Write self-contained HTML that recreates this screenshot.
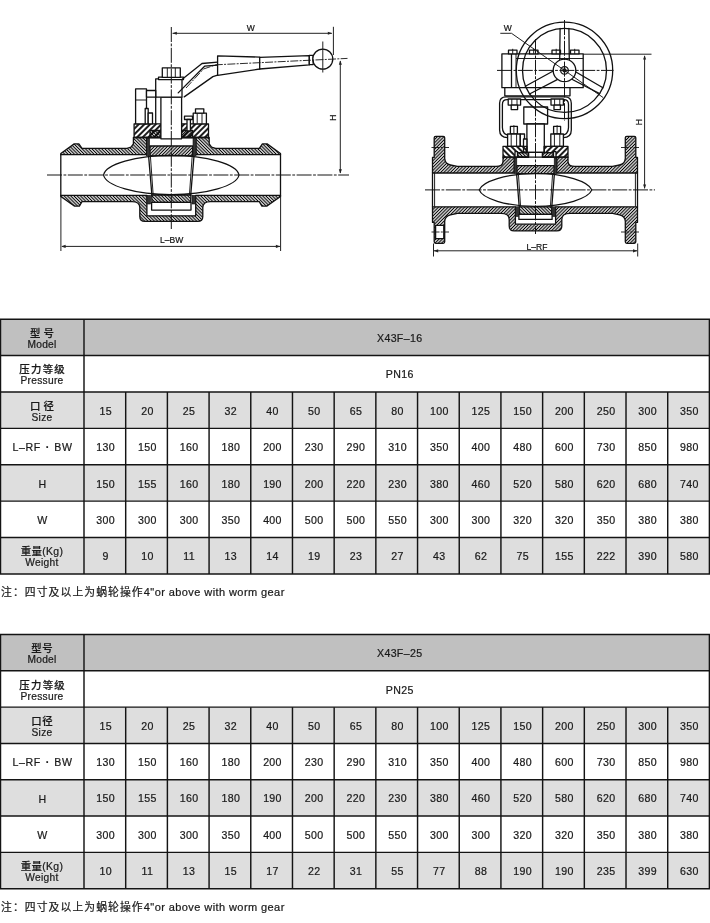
<!DOCTYPE html>
<html lang="zh"><head><meta charset="utf-8"><title>X43F</title>
<style>
html,body{margin:0;padding:0;background:#fff}
body{width:710px;height:923px;position:relative;overflow:hidden;font-family:"Liberation Sans","Noto Sans CJK SC",sans-serif;color:#1a1a1a}
svg.grid{position:absolute;left:0;top:0;will-change:transform}
svg.grid line{stroke:#141414;stroke-width:1.45}
.c{position:absolute;display:flex;flex-direction:column;align-items:center;justify-content:center;font-size:10.6px;letter-spacing:0.35px;line-height:1;white-space:nowrap}
.tx{position:absolute;left:0;top:0;width:710px;height:923px;will-change:transform;-webkit-text-stroke:0.22px #1a1a1a}
.c .one{display:block;position:relative;top:0.9px;left:0.9px}
.c.h{padding-top:3.2px;box-sizing:border-box}
.c.h .one{letter-spacing:0.6px;top:-0.7px;left:0.6px}
.dot{display:inline-block;width:13.4px;text-align:center;font-weight:bold;letter-spacing:0}
.c.w .one{position:relative;left:3px}
.h .zh{font-size:10.4px;line-height:11px;font-weight:500;display:block}
.h .en{font-size:10.2px;line-height:11px;letter-spacing:0.3px;display:block}
.sp{letter-spacing:3px;margin-right:-3px}
.sp0{letter-spacing:0.6px;margin-right:-0.6px}
.sp1{letter-spacing:1.3px;margin-right:-1.3px}
.note{position:absolute;left:1px;height:16px;line-height:16px;font-size:11px;letter-spacing:0.42px;white-space:nowrap}
.note .nz{font-size:10.8px;letter-spacing:1.1px;font-weight:400}
</style></head><body>
<svg class="dw" width="710" height="300" viewBox="0 0 710 300" style="position:absolute;left:0;top:0;will-change:transform">
<defs>
<pattern id="h1" width="2.3" height="2.3" patternUnits="userSpaceOnUse" patternTransform="rotate(45)"><line x1="1.15" y1="-1" x2="1.15" y2="4" stroke="#000" stroke-width="1.15"/></pattern>
<pattern id="h2" width="2.3" height="2.3" patternUnits="userSpaceOnUse" patternTransform="rotate(-45)"><line x1="1.15" y1="-1" x2="1.15" y2="4" stroke="#000" stroke-width="1.15"/></pattern>
<pattern id="h3" width="4" height="4" patternUnits="userSpaceOnUse" patternTransform="rotate(45)"><line x1="2" y1="-1" x2="2" y2="5" stroke="#111" stroke-width="1.9"/></pattern>
<pattern id="h4" width="4" height="4" patternUnits="userSpaceOnUse" patternTransform="rotate(-45)"><line x1="2" y1="-1" x2="2" y2="5" stroke="#111" stroke-width="1.9"/></pattern>
</defs>
<style>
.dw .o{fill:none;stroke:#111;stroke-width:1.3;stroke-linejoin:round;stroke-linecap:round}
.dw .w{fill:#fff;stroke:#111;stroke-width:1.3;stroke-linejoin:round}
.dw .t{fill:none;stroke:#151515;stroke-width:0.95}
.dw .cl{fill:none;stroke:#151515;stroke-width:1.0;stroke-dasharray:15 1.5 2.8 1.5}
.dw .cs{fill:none;stroke:#151515;stroke-width:0.9;stroke-dasharray:8 1.3 2 1.3}
.dw .ha{fill:url(#h1);stroke:#111;stroke-width:1.3;stroke-linejoin:round}
.dw .hb{fill:url(#h2);stroke:#111;stroke-width:1.3;stroke-linejoin:round}
.dw .hc{fill:url(#h3);stroke:#111;stroke-width:1.3;stroke-linejoin:round}
.dw .hd{fill:url(#h4);stroke:#111;stroke-width:1.3;stroke-linejoin:round}
.dw .k{fill:#333;stroke:#111;stroke-width:0.6}
.dw .ar{fill:#222;stroke:none}
.dw text{font-family:"Liberation Sans",sans-serif;font-weight:normal;fill:#111;stroke:#111;stroke-width:0.2}
</style>
<polygon class="hb" points="60.8,153.5 74.2,143.9 78.9,143.9 82.0,148.4 127.0,148.4 131.0,147.2 133.4,143.9 133.4,137.5 146.6,137.5 146.6,154.7 60.8,154.7"/>
<polygon class="hb" points="280.5,153.5 267.1,143.9 262.4,143.9 259.3,148.4 215.6,148.4 211.6,147.2 209.2,143.9 209.2,137.5 196.0,137.5 196.0,154.7 280.5,154.7"/>
<path class="hb" d="M60.8,195.3 L60.8,196.5 L74.6,206.1 L79.4,206.1 L82,201.6 L132,201.6 Q139.8,201.6 139.8,207.6 L139.8,216.4 Q139.8,221.4 145,221.4 L197.60000000000002,221.4 Q202.8,221.4 202.8,216.4 L202.8,207.6 Q202.8,201.6 210.60000000000002,201.6 L259.3,201.6 L261.9,206.1 L266.70000000000005,206.1 L280.5,196.5 L280.5,195.3 L195.70000000000002,195.3 L195.70000000000002,215.8 L146.9,215.8 L146.9,195.3 Z"/>
<line class="o" x1="60.8" y1="154.7" x2="60.8" y2="195.3"/>
<line class="o" x1="280.5" y1="154.7" x2="280.5" y2="195.3"/>
<path class="o" d="M103.6,175.0 C105.6,164.2 136.1,155.4 171.3,155.4 C206.5,155.4 237.0,164.2 239.0,175.0 C237.0,185.8 206.5,194.6 171.3,194.6 C136.1,194.6 105.6,185.8 103.6,175.0 Z"/>
<polygon class="ha" points="149.8,146.0 192.8,146.0 192.4,155.9 150.2,155.9"/>
<polygon class="hb" points="151.7,195.0 190.9,195.0 190.6,202.3 152.0,202.3"/>
<line class="o" x1="148.6" y1="155.9" x2="151.9" y2="195.3"/>
<line class="t" x1="150.4" y1="155.9" x2="153.2" y2="195.3"/>
<rect class="k" x="146.6" y="138.0" width="3.0" height="17.7"/>
<rect class="k" x="147.0" y="195.3" width="3.6" height="8.7"/>
<line class="o" x1="194.0" y1="155.9" x2="190.7" y2="195.3"/>
<line class="t" x1="192.2" y1="155.9" x2="189.4" y2="195.3"/>
<rect class="k" x="193.0" y="138.0" width="3.0" height="17.7"/>
<rect class="k" x="192.0" y="195.3" width="3.6" height="8.7"/>
<rect class="w" x="151.6" y="202.3" width="39.4" height="7.8"/>
<line class="o" x1="146.6" y1="137.5" x2="196.0" y2="137.5"/>
<rect class="hc" x="134.1" y="123.8" width="27.1" height="13.7"/>
<rect class="hc" x="181.4" y="123.8" width="27.1" height="13.7"/>
<rect class="hb" x="150.0" y="130.5" width="11.2" height="7.0"/>
<rect class="ha" x="181.4" y="130.5" width="11.2" height="7.0"/>
<rect class="w" x="160.9" y="97.2" width="20.7" height="41.6"/>
<rect class="w" x="155.7" y="78.8" width="26.3" height="18.4"/>
<rect class="w" x="158.5" y="77.2" width="25.0" height="2.4"/>
<rect class="w" x="162.3" y="67.9" width="18.0" height="9.5"/>
<line class="t" x1="167.3" y1="67.9" x2="167.3" y2="77.4"/>
<line class="t" x1="175.3" y1="67.9" x2="175.3" y2="77.4"/>
<rect class="w" x="135.6" y="88.9" width="10.9" height="34.9"/>
<line class="t" x1="135.6" y1="100.0" x2="146.5" y2="100.0"/>
<rect class="w" x="146.5" y="90.5" width="9.2" height="6.7"/>
<line class="o" x1="155.7" y1="97.2" x2="155.7" y2="123.8"/>
<rect class="w" x="145.2" y="108.5" width="3.0" height="15.3"/>
<rect class="w" x="148.2" y="113.0" width="4.3" height="10.8"/>
<rect class="w" x="184.5" y="116.2" width="8.0" height="3.3"/>
<rect class="w" x="187.0" y="119.5" width="3.4" height="11.5"/>
<rect class="w" x="193.2" y="113.2" width="13.2" height="10.6"/>
<rect class="w" x="195.5" y="108.8" width="8.3" height="4.4"/>
<line class="t" x1="197.2" y1="113.2" x2="197.2" y2="123.8"/>
<line class="t" x1="202.0" y1="113.2" x2="202.0" y2="123.8"/>
<polyline class="o" points="182.2,79.2 202.0,63.5 217.6,62.2"/>
<polyline class="o" points="178.2,92.9 204.6,66.2 217.6,65.2"/>
<polyline class="o" points="184.2,96.9 212.9,76.6 217.6,75.2"/>
<polygon class="w" points="217.6,55.8 259.7,57.1 259.7,69.0 217.6,75.4"/>
<polygon class="w" points="259.7,57.3 309.3,55.6 309.3,64.9 259.7,69.0"/>
<rect class="w" x="309.3" y="55.4" width="3.9" height="9.2"/>
<circle class="w" cx="322.8" cy="59.1" r="10"/>
<polyline class="cs" points="186.0,88.0 203.5,69.0 216.0,64.8 347.5,58.4"/>
<line class="t" x1="322.8" y1="41.5" x2="322.8" y2="72.5"/>
<line class="cl" x1="47.0" y1="175.0" x2="349.0" y2="175.0"/>
<line class="cl" x1="171.3" y1="27.0" x2="171.3" y2="229.0"/>
<line class="t" x1="172.6" y1="33.3" x2="331.8" y2="33.3"/>
<polygon class="ar" points="172.4,33.3 176.8,31.7 176.8,34.8"/>
<polygon class="ar" points="332.2,33.3 327.8,34.8 327.8,31.7"/>
<line class="t" x1="333.4" y1="26.8" x2="333.4" y2="55.0"/>
<text x="250.7" y="30.8" font-size="8.5" text-anchor="middle">W</text>
<line class="t" x1="340.3" y1="61.0" x2="340.3" y2="173.0"/>
<polygon class="ar" points="340.3,60.4 341.9,64.8 338.8,64.8"/>
<polygon class="ar" points="340.3,173.6 338.8,169.2 341.9,169.2"/>
<text x="335.9" y="117.6" font-size="8.5" text-anchor="middle" transform="rotate(-90 335.9 117.6)">H</text>
<line class="t" x1="60.9" y1="195.3" x2="60.9" y2="251.0"/>
<line class="t" x1="280.6" y1="195.3" x2="280.6" y2="251.0"/>
<line class="t" x1="62.0" y1="246.4" x2="280.0" y2="246.4"/>
<polygon class="ar" points="61.2,246.4 65.6,244.8 65.6,248.0"/>
<polygon class="ar" points="280.3,246.4 275.9,248.0 275.9,244.8"/>
<text x="171.7" y="243.2" font-size="8.5" text-anchor="middle">L–BW</text>
<rect class="w" x="501.9" y="53.9" width="81.3" height="33.8"/>
<line class="o" x1="511.5" y1="53.9" x2="511.5" y2="87.7"/>
<line class="t" x1="516.0" y1="53.9" x2="516.0" y2="87.7"/>
<line class="t" x1="516.0" y1="58.5" x2="583.2" y2="58.5"/>
<rect class="w" x="508.5" y="50.2" width="8.5" height="3.7"/>
<line class="t" x1="512.7" y1="48.8" x2="512.7" y2="53.9"/>
<rect class="w" x="529.5" y="50.2" width="8.5" height="3.7"/>
<line class="t" x1="533.7" y1="48.8" x2="533.7" y2="53.9"/>
<rect class="w" x="552.0" y="50.2" width="8.5" height="3.7"/>
<line class="t" x1="556.2" y1="48.8" x2="556.2" y2="53.9"/>
<rect class="w" x="570.5" y="50.2" width="8.5" height="3.7"/>
<line class="t" x1="574.7" y1="48.8" x2="574.7" y2="53.9"/>
<rect class="w" x="504.8" y="87.7" width="65.2" height="8.1"/>
<path class="o" d="M507.6,137.6 Q499.6,137.6 499.6,130.1 L499.6,103.3 Q499.6,96.8 506.1,96.8 L564.8,96.8 Q571.3,96.8 571.3,103.3 L571.3,130.1 Q571.3,137.6 563.3,137.6"/>
<path class="o" d="M509.6,135.1 Q502.4,135.1 502.4,127.6 L502.4,104.4 Q502.4,99.6 507.2,99.6 L563.7,99.6 Q568.5,99.6 568.5,104.4 L568.5,127.6 Q568.5,135.1 561.3,135.1"/>
<rect class="w" x="523.8" y="107.0" width="23.8" height="17.0"/>
<rect class="w" x="526.9" y="124.0" width="17.4" height="28.3"/>
<rect class="w" x="510.4" y="126.4" width="7.0" height="7.6"/>
<line class="t" x1="513.9" y1="125.2" x2="513.9" y2="134.0"/>
<rect class="w" x="507.6" y="134.0" width="12.6" height="12.4"/>
<line class="t" x1="511.2" y1="134.0" x2="511.2" y2="146.4"/>
<line class="t" x1="516.6" y1="134.0" x2="516.6" y2="146.4"/>
<rect class="w" x="553.6" y="126.4" width="7.0" height="7.6"/>
<line class="t" x1="557.1" y1="125.2" x2="557.1" y2="134.0"/>
<rect class="w" x="550.8" y="134.0" width="12.6" height="12.4"/>
<line class="t" x1="554.4" y1="134.0" x2="554.4" y2="146.4"/>
<line class="t" x1="559.8" y1="134.0" x2="559.8" y2="146.4"/>
<rect class="w" x="508.2" y="99.0" width="12.4" height="6.1"/>
<line class="t" x1="511.8" y1="99.0" x2="511.8" y2="105.1"/>
<line class="t" x1="517.0" y1="99.0" x2="517.0" y2="105.1"/>
<rect class="w" x="511.2" y="105.1" width="6.4" height="4.5"/>
<rect class="w" x="551.0" y="99.0" width="12.4" height="6.1"/>
<line class="t" x1="554.6" y1="99.0" x2="554.6" y2="105.1"/>
<line class="t" x1="559.8" y1="99.0" x2="559.8" y2="105.1"/>
<rect class="w" x="554.0" y="105.1" width="6.4" height="4.5"/>
<rect class="w" x="520.3" y="134.0" width="4.2" height="12.4"/>
<rect class="w" x="523.5" y="139.0" width="3.4" height="13.0"/>
<rect class="hd" x="503.0" y="146.4" width="23.9" height="10.8"/>
<rect class="hc" x="544.1" y="146.4" width="23.9" height="10.8"/>
<rect class="w" x="515.0" y="151.6" width="2.6" height="5.6"/>
<rect class="w" x="553.4" y="151.6" width="2.6" height="5.6"/>
<rect class="w" x="517.6" y="152.6" width="10.9" height="4.6"/>
<rect class="w" x="542.5" y="152.6" width="10.9" height="4.6"/>
<rect class="hb" x="517.6" y="152.6" width="10.9" height="4.6"/>
<rect class="ha" x="542.5" y="152.6" width="10.9" height="4.6"/>
<line class="o" x1="526.9" y1="152.3" x2="544.3" y2="152.3"/>
<path class="ha" d="M434.2,173.0 L432.5,173.0 L432.5,157.4 L434.2,157.4 L434.2,137.8 Q434.2,136.3 435.7,136.3 L443.2,136.3 Q444.7,136.3 444.7,137.8 L444.7,158.6 Q445.2,164 450.5,165 L457.4,166.4 L496.0,166.4 Q503.0,166.4 503.0,161.5 L503.0,157.2 L514.2,157.2 L514.2,173.0 Z"/>
<path class="ha" d="M635.8,173.0 L637.5,173.0 L637.5,157.4 L635.8,157.4 L635.8,137.8 Q635.8,136.3 634.3,136.3 L626.8,136.3 Q625.3,136.3 625.3,137.8 L625.3,158.6 Q624.8,164 619.5,165 L612.6,166.4 L575.0,166.4 Q568.0,166.4 568.0,161.5 L568.0,157.2 L556.8,157.2 L556.8,173.0 Z"/>
<path class="ha" d="M432.5,206.8 L432.5,222.4 L434.2,222.4 L434.2,241.8 Q434.2,243.3 435.7,243.3 L443.2,243.3 Q444.7,243.3 444.7,241.8 L444.7,221.2 Q445.2,215.8 450.5,214.8 L457.4,213.4 L501.0,213.4 Q509.2,213.4 509.2,219.4 L509.2,225.9 Q509.2,230.9 514.2,230.9 L556.8,230.9 Q561.8,230.9 561.8,225.9 L561.8,219.4 Q561.8,213.4 570.0,213.4 L612.6,213.4 L619.5,214.8 Q624.8,215.8 625.3,221.2 L625.3,241.8 Q625.3,243.3 626.8,243.3 L634.3,243.3 Q635.8,243.3 635.8,241.8 L635.8,222.4 L637.5,222.4 L637.5,206.8 L555.6,206.8 L555.6,224.2 L515.4,224.2 L515.4,206.8 Z"/>
<rect class="w" x="435.6" y="225.4" width="8.2" height="13.2"/>
<line class="o" x1="432.5" y1="173.0" x2="432.5" y2="206.8"/>
<line class="o" x1="637.5" y1="173.0" x2="637.5" y2="206.8"/>
<line class="t" x1="434.6" y1="173.0" x2="434.6" y2="206.8"/>
<line class="t" x1="635.4" y1="173.0" x2="635.4" y2="206.8"/>
<line class="cs" x1="431.5" y1="147.5" x2="449.0" y2="147.5"/>
<line class="cs" x1="621.0" y1="147.5" x2="639.0" y2="147.5"/>
<line class="cs" x1="431.5" y1="232.0" x2="449.0" y2="232.0"/>
<line class="cs" x1="621.0" y1="232.0" x2="639.0" y2="232.0"/>
<path class="o" d="M479.2,189.9 C482.0,181.7 506.2,173.4 535.5,173.4 C564.8,173.4 589.0,181.7 591.8,189.9 C589.0,198.2 564.8,206.4 535.5,206.4 C506.2,206.4 482.0,198.2 479.2,189.9 Z"/>
<polygon class="ha" points="516.8,165.7 554.2,165.7 553.9,173.6 517.1,173.6"/>
<polygon class="hb" points="519.2,206.8 551.8,206.8 551.6,214.3 519.4,214.3"/>
<line class="o" x1="516.6" y1="173.6" x2="519.2" y2="206.8"/>
<line class="t" x1="518.4" y1="173.6" x2="520.6" y2="206.8"/>
<rect class="k" x="514.2" y="158.0" width="2.6" height="15.6"/>
<rect class="k" x="515.4" y="206.8" width="3.2" height="9.7"/>
<line class="o" x1="554.4" y1="173.6" x2="551.8" y2="206.8"/>
<line class="t" x1="552.6" y1="173.6" x2="550.4" y2="206.8"/>
<rect class="k" x="554.2" y="158.0" width="2.6" height="15.6"/>
<rect class="k" x="552.4" y="206.8" width="3.2" height="9.7"/>
<rect class="w" x="518.9" y="214.3" width="33.2" height="5.1"/>
<line class="o" x1="514.2" y1="157.2" x2="556.8" y2="157.2"/>
<circle class="o" cx="564.5" cy="70.4" r="48.2"/>
<circle class="o" cx="564.5" cy="70.4" r="42"/>
<line class="o" x1="569.3" y1="60.2" x2="568.9" y2="28.4"/>
<line class="o" x1="559.7" y1="60.2" x2="560.1" y2="28.4"/>
<line class="o" x1="571.4" y1="79.0" x2="599.6" y2="93.7"/>
<line class="o" x1="575.5" y1="71.7" x2="602.9" y2="87.8"/>
<line class="o" x1="553.2" y1="71.0" x2="525.4" y2="86.2"/>
<line class="o" x1="557.7" y1="79.4" x2="529.5" y2="94.0"/>
<circle class="w" cx="564.5" cy="70.4" r="11.3"/>
<circle class="o" cx="564.5" cy="70.4" r="3.8"/>
<circle class="o" cx="564.5" cy="70.4" r="1.5"/>
<line class="cl" x1="425.0" y1="189.9" x2="655.0" y2="189.9"/>
<line class="cl" x1="535.5" y1="39.0" x2="535.5" y2="234.0"/>
<line class="cl" x1="497.0" y1="70.4" x2="613.5" y2="70.4"/>
<line class="cl" x1="564.5" y1="20.0" x2="564.5" y2="120.5"/>
<polyline class="t" points="500.3,33.3 511.5,33.3 564.5,70.4 603.2,97.6"/>
<text x="507.8" y="30.6" font-size="8.5" text-anchor="middle">W</text>
<line class="t" x1="583.2" y1="54.2" x2="651.5" y2="54.2"/>
<line class="t" x1="644.6" y1="56.0" x2="644.6" y2="188.2"/>
<polygon class="ar" points="644.6,55.2 646.1,59.6 643.1,59.6"/>
<polygon class="ar" points="644.6,188.9 643.1,184.5 646.1,184.5"/>
<text x="642.4" y="122.1" font-size="8.5" text-anchor="middle" transform="rotate(-90 642.4 122.1)">H</text>
<line class="t" x1="433.5" y1="243.5" x2="433.5" y2="256.5"/>
<line class="t" x1="637.7" y1="243.5" x2="637.7" y2="256.5"/>
<line class="t" x1="434.0" y1="250.8" x2="637.0" y2="250.8"/>
<polygon class="ar" points="433.8,250.8 438.2,249.2 438.2,252.4"/>
<polygon class="ar" points="637.4,250.8 633.0,252.4 633.0,249.2"/>
<text x="537.0" y="249.6" font-size="8.5" text-anchor="middle">L–RF</text>
</svg>
<svg class="grid" width="710" height="923" viewBox="0 0 710 923">
<rect x="0" y="319.20" width="710" height="36.39" fill="#c0c0c0"/>
<rect x="0" y="391.97" width="710" height="36.39" fill="#dedede"/>
<rect x="0" y="464.74" width="710" height="36.39" fill="#dedede"/>
<rect x="0" y="537.51" width="710" height="36.39" fill="#dedede"/>
<line x1="0" y1="319.20" x2="710" y2="319.20"/>
<line x1="0" y1="355.59" x2="710" y2="355.59"/>
<line x1="0" y1="391.97" x2="710" y2="391.97"/>
<line x1="0" y1="428.36" x2="710" y2="428.36"/>
<line x1="0" y1="464.74" x2="710" y2="464.74"/>
<line x1="0" y1="501.13" x2="710" y2="501.13"/>
<line x1="0" y1="537.51" x2="710" y2="537.51"/>
<line x1="0" y1="573.90" x2="710" y2="573.90"/>
<line x1="0.5" y1="319.20" x2="0.5" y2="573.90"/>
<line x1="84.00" y1="319.20" x2="84.00" y2="573.90"/>
<line x1="709.40" y1="319.20" x2="709.40" y2="573.90"/>
<line x1="125.69" y1="391.97" x2="125.69" y2="573.90"/>
<line x1="167.39" y1="391.97" x2="167.39" y2="573.90"/>
<line x1="209.08" y1="391.97" x2="209.08" y2="573.90"/>
<line x1="250.77" y1="391.97" x2="250.77" y2="573.90"/>
<line x1="292.47" y1="391.97" x2="292.47" y2="573.90"/>
<line x1="334.16" y1="391.97" x2="334.16" y2="573.90"/>
<line x1="375.85" y1="391.97" x2="375.85" y2="573.90"/>
<line x1="417.55" y1="391.97" x2="417.55" y2="573.90"/>
<line x1="459.24" y1="391.97" x2="459.24" y2="573.90"/>
<line x1="500.93" y1="391.97" x2="500.93" y2="573.90"/>
<line x1="542.63" y1="391.97" x2="542.63" y2="573.90"/>
<line x1="584.32" y1="391.97" x2="584.32" y2="573.90"/>
<line x1="626.01" y1="391.97" x2="626.01" y2="573.90"/>
<line x1="667.71" y1="391.97" x2="667.71" y2="573.90"/>
<rect x="0" y="634.50" width="710" height="36.31" fill="#c0c0c0"/>
<rect x="0" y="707.13" width="710" height="36.31" fill="#dedede"/>
<rect x="0" y="779.76" width="710" height="36.31" fill="#dedede"/>
<rect x="0" y="852.39" width="710" height="36.31" fill="#dedede"/>
<line x1="0" y1="634.50" x2="710" y2="634.50"/>
<line x1="0" y1="670.81" x2="710" y2="670.81"/>
<line x1="0" y1="707.13" x2="710" y2="707.13"/>
<line x1="0" y1="743.44" x2="710" y2="743.44"/>
<line x1="0" y1="779.76" x2="710" y2="779.76"/>
<line x1="0" y1="816.07" x2="710" y2="816.07"/>
<line x1="0" y1="852.39" x2="710" y2="852.39"/>
<line x1="0" y1="888.70" x2="710" y2="888.70"/>
<line x1="0.5" y1="634.50" x2="0.5" y2="888.70"/>
<line x1="84.00" y1="634.50" x2="84.00" y2="888.70"/>
<line x1="709.40" y1="634.50" x2="709.40" y2="888.70"/>
<line x1="125.69" y1="707.13" x2="125.69" y2="888.70"/>
<line x1="167.39" y1="707.13" x2="167.39" y2="888.70"/>
<line x1="209.08" y1="707.13" x2="209.08" y2="888.70"/>
<line x1="250.77" y1="707.13" x2="250.77" y2="888.70"/>
<line x1="292.47" y1="707.13" x2="292.47" y2="888.70"/>
<line x1="334.16" y1="707.13" x2="334.16" y2="888.70"/>
<line x1="375.85" y1="707.13" x2="375.85" y2="888.70"/>
<line x1="417.55" y1="707.13" x2="417.55" y2="888.70"/>
<line x1="459.24" y1="707.13" x2="459.24" y2="888.70"/>
<line x1="500.93" y1="707.13" x2="500.93" y2="888.70"/>
<line x1="542.63" y1="707.13" x2="542.63" y2="888.70"/>
<line x1="584.32" y1="707.13" x2="584.32" y2="888.70"/>
<line x1="626.01" y1="707.13" x2="626.01" y2="888.70"/>
<line x1="667.71" y1="707.13" x2="667.71" y2="888.70"/>
</svg>
<div class="tx">
<div class="c h" style="left:0.00px;top:319.20px;width:84.00px;height:36.39px"><span class="zh sp">型号</span><span class="en">Model</span></div>
<div class="c h" style="left:0.00px;top:355.59px;width:84.00px;height:36.39px"><span class="zh sp1">压力等级</span><span class="en">Pressure</span></div>
<div class="c h" style="left:0.00px;top:391.97px;width:84.00px;height:36.39px"><span class="zh sp">口径</span><span class="en">Size</span></div>
<div class="c h" style="left:0.00px;top:428.36px;width:84.00px;height:36.39px"><span class="one">L–RF<span class="dot">·</span>BW</span></div>
<div class="c h" style="left:0.00px;top:464.74px;width:84.00px;height:36.39px"><span class="one">H</span></div>
<div class="c h" style="left:0.00px;top:501.13px;width:84.00px;height:36.39px"><span class="one">W</span></div>
<div class="c h" style="left:0.00px;top:537.51px;width:84.00px;height:36.39px"><span class="zh">重量(Kg)</span><span class="en">Weight</span></div>
<div class="c w" style="left:84.00px;top:319.20px;width:625.40px;height:36.39px"><span class="one">X43F–16</span></div>
<div class="c w" style="left:84.00px;top:355.59px;width:625.40px;height:36.39px"><span class="one">PN16</span></div>
<div class="c" style="left:84.00px;top:391.97px;width:41.69px;height:36.39px"><span class="one">15</span></div>
<div class="c" style="left:125.69px;top:391.97px;width:41.69px;height:36.39px"><span class="one">20</span></div>
<div class="c" style="left:167.39px;top:391.97px;width:41.69px;height:36.39px"><span class="one">25</span></div>
<div class="c" style="left:209.08px;top:391.97px;width:41.69px;height:36.39px"><span class="one">32</span></div>
<div class="c" style="left:250.77px;top:391.97px;width:41.69px;height:36.39px"><span class="one">40</span></div>
<div class="c" style="left:292.47px;top:391.97px;width:41.69px;height:36.39px"><span class="one">50</span></div>
<div class="c" style="left:334.16px;top:391.97px;width:41.69px;height:36.39px"><span class="one">65</span></div>
<div class="c" style="left:375.85px;top:391.97px;width:41.69px;height:36.39px"><span class="one">80</span></div>
<div class="c" style="left:417.55px;top:391.97px;width:41.69px;height:36.39px"><span class="one">100</span></div>
<div class="c" style="left:459.24px;top:391.97px;width:41.69px;height:36.39px"><span class="one">125</span></div>
<div class="c" style="left:500.93px;top:391.97px;width:41.69px;height:36.39px"><span class="one">150</span></div>
<div class="c" style="left:542.63px;top:391.97px;width:41.69px;height:36.39px"><span class="one">200</span></div>
<div class="c" style="left:584.32px;top:391.97px;width:41.69px;height:36.39px"><span class="one">250</span></div>
<div class="c" style="left:626.01px;top:391.97px;width:41.69px;height:36.39px"><span class="one">300</span></div>
<div class="c" style="left:667.71px;top:391.97px;width:41.69px;height:36.39px"><span class="one">350</span></div>
<div class="c" style="left:84.00px;top:428.36px;width:41.69px;height:36.39px"><span class="one">130</span></div>
<div class="c" style="left:125.69px;top:428.36px;width:41.69px;height:36.39px"><span class="one">150</span></div>
<div class="c" style="left:167.39px;top:428.36px;width:41.69px;height:36.39px"><span class="one">160</span></div>
<div class="c" style="left:209.08px;top:428.36px;width:41.69px;height:36.39px"><span class="one">180</span></div>
<div class="c" style="left:250.77px;top:428.36px;width:41.69px;height:36.39px"><span class="one">200</span></div>
<div class="c" style="left:292.47px;top:428.36px;width:41.69px;height:36.39px"><span class="one">230</span></div>
<div class="c" style="left:334.16px;top:428.36px;width:41.69px;height:36.39px"><span class="one">290</span></div>
<div class="c" style="left:375.85px;top:428.36px;width:41.69px;height:36.39px"><span class="one">310</span></div>
<div class="c" style="left:417.55px;top:428.36px;width:41.69px;height:36.39px"><span class="one">350</span></div>
<div class="c" style="left:459.24px;top:428.36px;width:41.69px;height:36.39px"><span class="one">400</span></div>
<div class="c" style="left:500.93px;top:428.36px;width:41.69px;height:36.39px"><span class="one">480</span></div>
<div class="c" style="left:542.63px;top:428.36px;width:41.69px;height:36.39px"><span class="one">600</span></div>
<div class="c" style="left:584.32px;top:428.36px;width:41.69px;height:36.39px"><span class="one">730</span></div>
<div class="c" style="left:626.01px;top:428.36px;width:41.69px;height:36.39px"><span class="one">850</span></div>
<div class="c" style="left:667.71px;top:428.36px;width:41.69px;height:36.39px"><span class="one">980</span></div>
<div class="c" style="left:84.00px;top:464.74px;width:41.69px;height:36.39px"><span class="one">150</span></div>
<div class="c" style="left:125.69px;top:464.74px;width:41.69px;height:36.39px"><span class="one">155</span></div>
<div class="c" style="left:167.39px;top:464.74px;width:41.69px;height:36.39px"><span class="one">160</span></div>
<div class="c" style="left:209.08px;top:464.74px;width:41.69px;height:36.39px"><span class="one">180</span></div>
<div class="c" style="left:250.77px;top:464.74px;width:41.69px;height:36.39px"><span class="one">190</span></div>
<div class="c" style="left:292.47px;top:464.74px;width:41.69px;height:36.39px"><span class="one">200</span></div>
<div class="c" style="left:334.16px;top:464.74px;width:41.69px;height:36.39px"><span class="one">220</span></div>
<div class="c" style="left:375.85px;top:464.74px;width:41.69px;height:36.39px"><span class="one">230</span></div>
<div class="c" style="left:417.55px;top:464.74px;width:41.69px;height:36.39px"><span class="one">380</span></div>
<div class="c" style="left:459.24px;top:464.74px;width:41.69px;height:36.39px"><span class="one">460</span></div>
<div class="c" style="left:500.93px;top:464.74px;width:41.69px;height:36.39px"><span class="one">520</span></div>
<div class="c" style="left:542.63px;top:464.74px;width:41.69px;height:36.39px"><span class="one">580</span></div>
<div class="c" style="left:584.32px;top:464.74px;width:41.69px;height:36.39px"><span class="one">620</span></div>
<div class="c" style="left:626.01px;top:464.74px;width:41.69px;height:36.39px"><span class="one">680</span></div>
<div class="c" style="left:667.71px;top:464.74px;width:41.69px;height:36.39px"><span class="one">740</span></div>
<div class="c" style="left:84.00px;top:501.13px;width:41.69px;height:36.39px"><span class="one">300</span></div>
<div class="c" style="left:125.69px;top:501.13px;width:41.69px;height:36.39px"><span class="one">300</span></div>
<div class="c" style="left:167.39px;top:501.13px;width:41.69px;height:36.39px"><span class="one">300</span></div>
<div class="c" style="left:209.08px;top:501.13px;width:41.69px;height:36.39px"><span class="one">350</span></div>
<div class="c" style="left:250.77px;top:501.13px;width:41.69px;height:36.39px"><span class="one">400</span></div>
<div class="c" style="left:292.47px;top:501.13px;width:41.69px;height:36.39px"><span class="one">500</span></div>
<div class="c" style="left:334.16px;top:501.13px;width:41.69px;height:36.39px"><span class="one">500</span></div>
<div class="c" style="left:375.85px;top:501.13px;width:41.69px;height:36.39px"><span class="one">550</span></div>
<div class="c" style="left:417.55px;top:501.13px;width:41.69px;height:36.39px"><span class="one">300</span></div>
<div class="c" style="left:459.24px;top:501.13px;width:41.69px;height:36.39px"><span class="one">300</span></div>
<div class="c" style="left:500.93px;top:501.13px;width:41.69px;height:36.39px"><span class="one">320</span></div>
<div class="c" style="left:542.63px;top:501.13px;width:41.69px;height:36.39px"><span class="one">320</span></div>
<div class="c" style="left:584.32px;top:501.13px;width:41.69px;height:36.39px"><span class="one">350</span></div>
<div class="c" style="left:626.01px;top:501.13px;width:41.69px;height:36.39px"><span class="one">380</span></div>
<div class="c" style="left:667.71px;top:501.13px;width:41.69px;height:36.39px"><span class="one">380</span></div>
<div class="c" style="left:84.00px;top:537.51px;width:41.69px;height:36.39px"><span class="one">9</span></div>
<div class="c" style="left:125.69px;top:537.51px;width:41.69px;height:36.39px"><span class="one">10</span></div>
<div class="c" style="left:167.39px;top:537.51px;width:41.69px;height:36.39px"><span class="one">11</span></div>
<div class="c" style="left:209.08px;top:537.51px;width:41.69px;height:36.39px"><span class="one">13</span></div>
<div class="c" style="left:250.77px;top:537.51px;width:41.69px;height:36.39px"><span class="one">14</span></div>
<div class="c" style="left:292.47px;top:537.51px;width:41.69px;height:36.39px"><span class="one">19</span></div>
<div class="c" style="left:334.16px;top:537.51px;width:41.69px;height:36.39px"><span class="one">23</span></div>
<div class="c" style="left:375.85px;top:537.51px;width:41.69px;height:36.39px"><span class="one">27</span></div>
<div class="c" style="left:417.55px;top:537.51px;width:41.69px;height:36.39px"><span class="one">43</span></div>
<div class="c" style="left:459.24px;top:537.51px;width:41.69px;height:36.39px"><span class="one">62</span></div>
<div class="c" style="left:500.93px;top:537.51px;width:41.69px;height:36.39px"><span class="one">75</span></div>
<div class="c" style="left:542.63px;top:537.51px;width:41.69px;height:36.39px"><span class="one">155</span></div>
<div class="c" style="left:584.32px;top:537.51px;width:41.69px;height:36.39px"><span class="one">222</span></div>
<div class="c" style="left:626.01px;top:537.51px;width:41.69px;height:36.39px"><span class="one">390</span></div>
<div class="c" style="left:667.71px;top:537.51px;width:41.69px;height:36.39px"><span class="one">580</span></div>
<div class="note" style="top:583.60px"><span class="nz">注：四寸及以上为蜗轮操作</span>4"or above with worm gear</div>
<div class="c h" style="left:0.00px;top:634.50px;width:84.00px;height:36.31px"><span class="zh sp0">型号</span><span class="en">Model</span></div>
<div class="c h" style="left:0.00px;top:670.81px;width:84.00px;height:36.31px"><span class="zh sp1">压力等级</span><span class="en">Pressure</span></div>
<div class="c h" style="left:0.00px;top:707.13px;width:84.00px;height:36.31px"><span class="zh sp0">口径</span><span class="en">Size</span></div>
<div class="c h" style="left:0.00px;top:743.44px;width:84.00px;height:36.31px"><span class="one">L–RF<span class="dot">·</span>BW</span></div>
<div class="c h" style="left:0.00px;top:779.76px;width:84.00px;height:36.31px"><span class="one">H</span></div>
<div class="c h" style="left:0.00px;top:816.07px;width:84.00px;height:36.31px"><span class="one">W</span></div>
<div class="c h" style="left:0.00px;top:852.39px;width:84.00px;height:36.31px"><span class="zh">重量(Kg)</span><span class="en">Weight</span></div>
<div class="c w" style="left:84.00px;top:634.50px;width:625.40px;height:36.31px"><span class="one">X43F–25</span></div>
<div class="c w" style="left:84.00px;top:670.81px;width:625.40px;height:36.31px"><span class="one">PN25</span></div>
<div class="c" style="left:84.00px;top:707.13px;width:41.69px;height:36.31px"><span class="one">15</span></div>
<div class="c" style="left:125.69px;top:707.13px;width:41.69px;height:36.31px"><span class="one">20</span></div>
<div class="c" style="left:167.39px;top:707.13px;width:41.69px;height:36.31px"><span class="one">25</span></div>
<div class="c" style="left:209.08px;top:707.13px;width:41.69px;height:36.31px"><span class="one">32</span></div>
<div class="c" style="left:250.77px;top:707.13px;width:41.69px;height:36.31px"><span class="one">40</span></div>
<div class="c" style="left:292.47px;top:707.13px;width:41.69px;height:36.31px"><span class="one">50</span></div>
<div class="c" style="left:334.16px;top:707.13px;width:41.69px;height:36.31px"><span class="one">65</span></div>
<div class="c" style="left:375.85px;top:707.13px;width:41.69px;height:36.31px"><span class="one">80</span></div>
<div class="c" style="left:417.55px;top:707.13px;width:41.69px;height:36.31px"><span class="one">100</span></div>
<div class="c" style="left:459.24px;top:707.13px;width:41.69px;height:36.31px"><span class="one">125</span></div>
<div class="c" style="left:500.93px;top:707.13px;width:41.69px;height:36.31px"><span class="one">150</span></div>
<div class="c" style="left:542.63px;top:707.13px;width:41.69px;height:36.31px"><span class="one">200</span></div>
<div class="c" style="left:584.32px;top:707.13px;width:41.69px;height:36.31px"><span class="one">250</span></div>
<div class="c" style="left:626.01px;top:707.13px;width:41.69px;height:36.31px"><span class="one">300</span></div>
<div class="c" style="left:667.71px;top:707.13px;width:41.69px;height:36.31px"><span class="one">350</span></div>
<div class="c" style="left:84.00px;top:743.44px;width:41.69px;height:36.31px"><span class="one">130</span></div>
<div class="c" style="left:125.69px;top:743.44px;width:41.69px;height:36.31px"><span class="one">150</span></div>
<div class="c" style="left:167.39px;top:743.44px;width:41.69px;height:36.31px"><span class="one">160</span></div>
<div class="c" style="left:209.08px;top:743.44px;width:41.69px;height:36.31px"><span class="one">180</span></div>
<div class="c" style="left:250.77px;top:743.44px;width:41.69px;height:36.31px"><span class="one">200</span></div>
<div class="c" style="left:292.47px;top:743.44px;width:41.69px;height:36.31px"><span class="one">230</span></div>
<div class="c" style="left:334.16px;top:743.44px;width:41.69px;height:36.31px"><span class="one">290</span></div>
<div class="c" style="left:375.85px;top:743.44px;width:41.69px;height:36.31px"><span class="one">310</span></div>
<div class="c" style="left:417.55px;top:743.44px;width:41.69px;height:36.31px"><span class="one">350</span></div>
<div class="c" style="left:459.24px;top:743.44px;width:41.69px;height:36.31px"><span class="one">400</span></div>
<div class="c" style="left:500.93px;top:743.44px;width:41.69px;height:36.31px"><span class="one">480</span></div>
<div class="c" style="left:542.63px;top:743.44px;width:41.69px;height:36.31px"><span class="one">600</span></div>
<div class="c" style="left:584.32px;top:743.44px;width:41.69px;height:36.31px"><span class="one">730</span></div>
<div class="c" style="left:626.01px;top:743.44px;width:41.69px;height:36.31px"><span class="one">850</span></div>
<div class="c" style="left:667.71px;top:743.44px;width:41.69px;height:36.31px"><span class="one">980</span></div>
<div class="c" style="left:84.00px;top:779.76px;width:41.69px;height:36.31px"><span class="one">150</span></div>
<div class="c" style="left:125.69px;top:779.76px;width:41.69px;height:36.31px"><span class="one">155</span></div>
<div class="c" style="left:167.39px;top:779.76px;width:41.69px;height:36.31px"><span class="one">160</span></div>
<div class="c" style="left:209.08px;top:779.76px;width:41.69px;height:36.31px"><span class="one">180</span></div>
<div class="c" style="left:250.77px;top:779.76px;width:41.69px;height:36.31px"><span class="one">190</span></div>
<div class="c" style="left:292.47px;top:779.76px;width:41.69px;height:36.31px"><span class="one">200</span></div>
<div class="c" style="left:334.16px;top:779.76px;width:41.69px;height:36.31px"><span class="one">220</span></div>
<div class="c" style="left:375.85px;top:779.76px;width:41.69px;height:36.31px"><span class="one">230</span></div>
<div class="c" style="left:417.55px;top:779.76px;width:41.69px;height:36.31px"><span class="one">380</span></div>
<div class="c" style="left:459.24px;top:779.76px;width:41.69px;height:36.31px"><span class="one">460</span></div>
<div class="c" style="left:500.93px;top:779.76px;width:41.69px;height:36.31px"><span class="one">520</span></div>
<div class="c" style="left:542.63px;top:779.76px;width:41.69px;height:36.31px"><span class="one">580</span></div>
<div class="c" style="left:584.32px;top:779.76px;width:41.69px;height:36.31px"><span class="one">620</span></div>
<div class="c" style="left:626.01px;top:779.76px;width:41.69px;height:36.31px"><span class="one">680</span></div>
<div class="c" style="left:667.71px;top:779.76px;width:41.69px;height:36.31px"><span class="one">740</span></div>
<div class="c" style="left:84.00px;top:816.07px;width:41.69px;height:36.31px"><span class="one">300</span></div>
<div class="c" style="left:125.69px;top:816.07px;width:41.69px;height:36.31px"><span class="one">300</span></div>
<div class="c" style="left:167.39px;top:816.07px;width:41.69px;height:36.31px"><span class="one">300</span></div>
<div class="c" style="left:209.08px;top:816.07px;width:41.69px;height:36.31px"><span class="one">350</span></div>
<div class="c" style="left:250.77px;top:816.07px;width:41.69px;height:36.31px"><span class="one">400</span></div>
<div class="c" style="left:292.47px;top:816.07px;width:41.69px;height:36.31px"><span class="one">500</span></div>
<div class="c" style="left:334.16px;top:816.07px;width:41.69px;height:36.31px"><span class="one">500</span></div>
<div class="c" style="left:375.85px;top:816.07px;width:41.69px;height:36.31px"><span class="one">550</span></div>
<div class="c" style="left:417.55px;top:816.07px;width:41.69px;height:36.31px"><span class="one">300</span></div>
<div class="c" style="left:459.24px;top:816.07px;width:41.69px;height:36.31px"><span class="one">300</span></div>
<div class="c" style="left:500.93px;top:816.07px;width:41.69px;height:36.31px"><span class="one">320</span></div>
<div class="c" style="left:542.63px;top:816.07px;width:41.69px;height:36.31px"><span class="one">320</span></div>
<div class="c" style="left:584.32px;top:816.07px;width:41.69px;height:36.31px"><span class="one">350</span></div>
<div class="c" style="left:626.01px;top:816.07px;width:41.69px;height:36.31px"><span class="one">380</span></div>
<div class="c" style="left:667.71px;top:816.07px;width:41.69px;height:36.31px"><span class="one">380</span></div>
<div class="c" style="left:84.00px;top:852.39px;width:41.69px;height:36.31px"><span class="one">10</span></div>
<div class="c" style="left:125.69px;top:852.39px;width:41.69px;height:36.31px"><span class="one">11</span></div>
<div class="c" style="left:167.39px;top:852.39px;width:41.69px;height:36.31px"><span class="one">13</span></div>
<div class="c" style="left:209.08px;top:852.39px;width:41.69px;height:36.31px"><span class="one">15</span></div>
<div class="c" style="left:250.77px;top:852.39px;width:41.69px;height:36.31px"><span class="one">17</span></div>
<div class="c" style="left:292.47px;top:852.39px;width:41.69px;height:36.31px"><span class="one">22</span></div>
<div class="c" style="left:334.16px;top:852.39px;width:41.69px;height:36.31px"><span class="one">31</span></div>
<div class="c" style="left:375.85px;top:852.39px;width:41.69px;height:36.31px"><span class="one">55</span></div>
<div class="c" style="left:417.55px;top:852.39px;width:41.69px;height:36.31px"><span class="one">77</span></div>
<div class="c" style="left:459.24px;top:852.39px;width:41.69px;height:36.31px"><span class="one">88</span></div>
<div class="c" style="left:500.93px;top:852.39px;width:41.69px;height:36.31px"><span class="one">190</span></div>
<div class="c" style="left:542.63px;top:852.39px;width:41.69px;height:36.31px"><span class="one">190</span></div>
<div class="c" style="left:584.32px;top:852.39px;width:41.69px;height:36.31px"><span class="one">235</span></div>
<div class="c" style="left:626.01px;top:852.39px;width:41.69px;height:36.31px"><span class="one">399</span></div>
<div class="c" style="left:667.71px;top:852.39px;width:41.69px;height:36.31px"><span class="one">630</span></div>
<div class="note" style="top:898.80px"><span class="nz">注：四寸及以上为蜗轮操作</span>4"or above with worm gear</div>
</div>
</body></html>
